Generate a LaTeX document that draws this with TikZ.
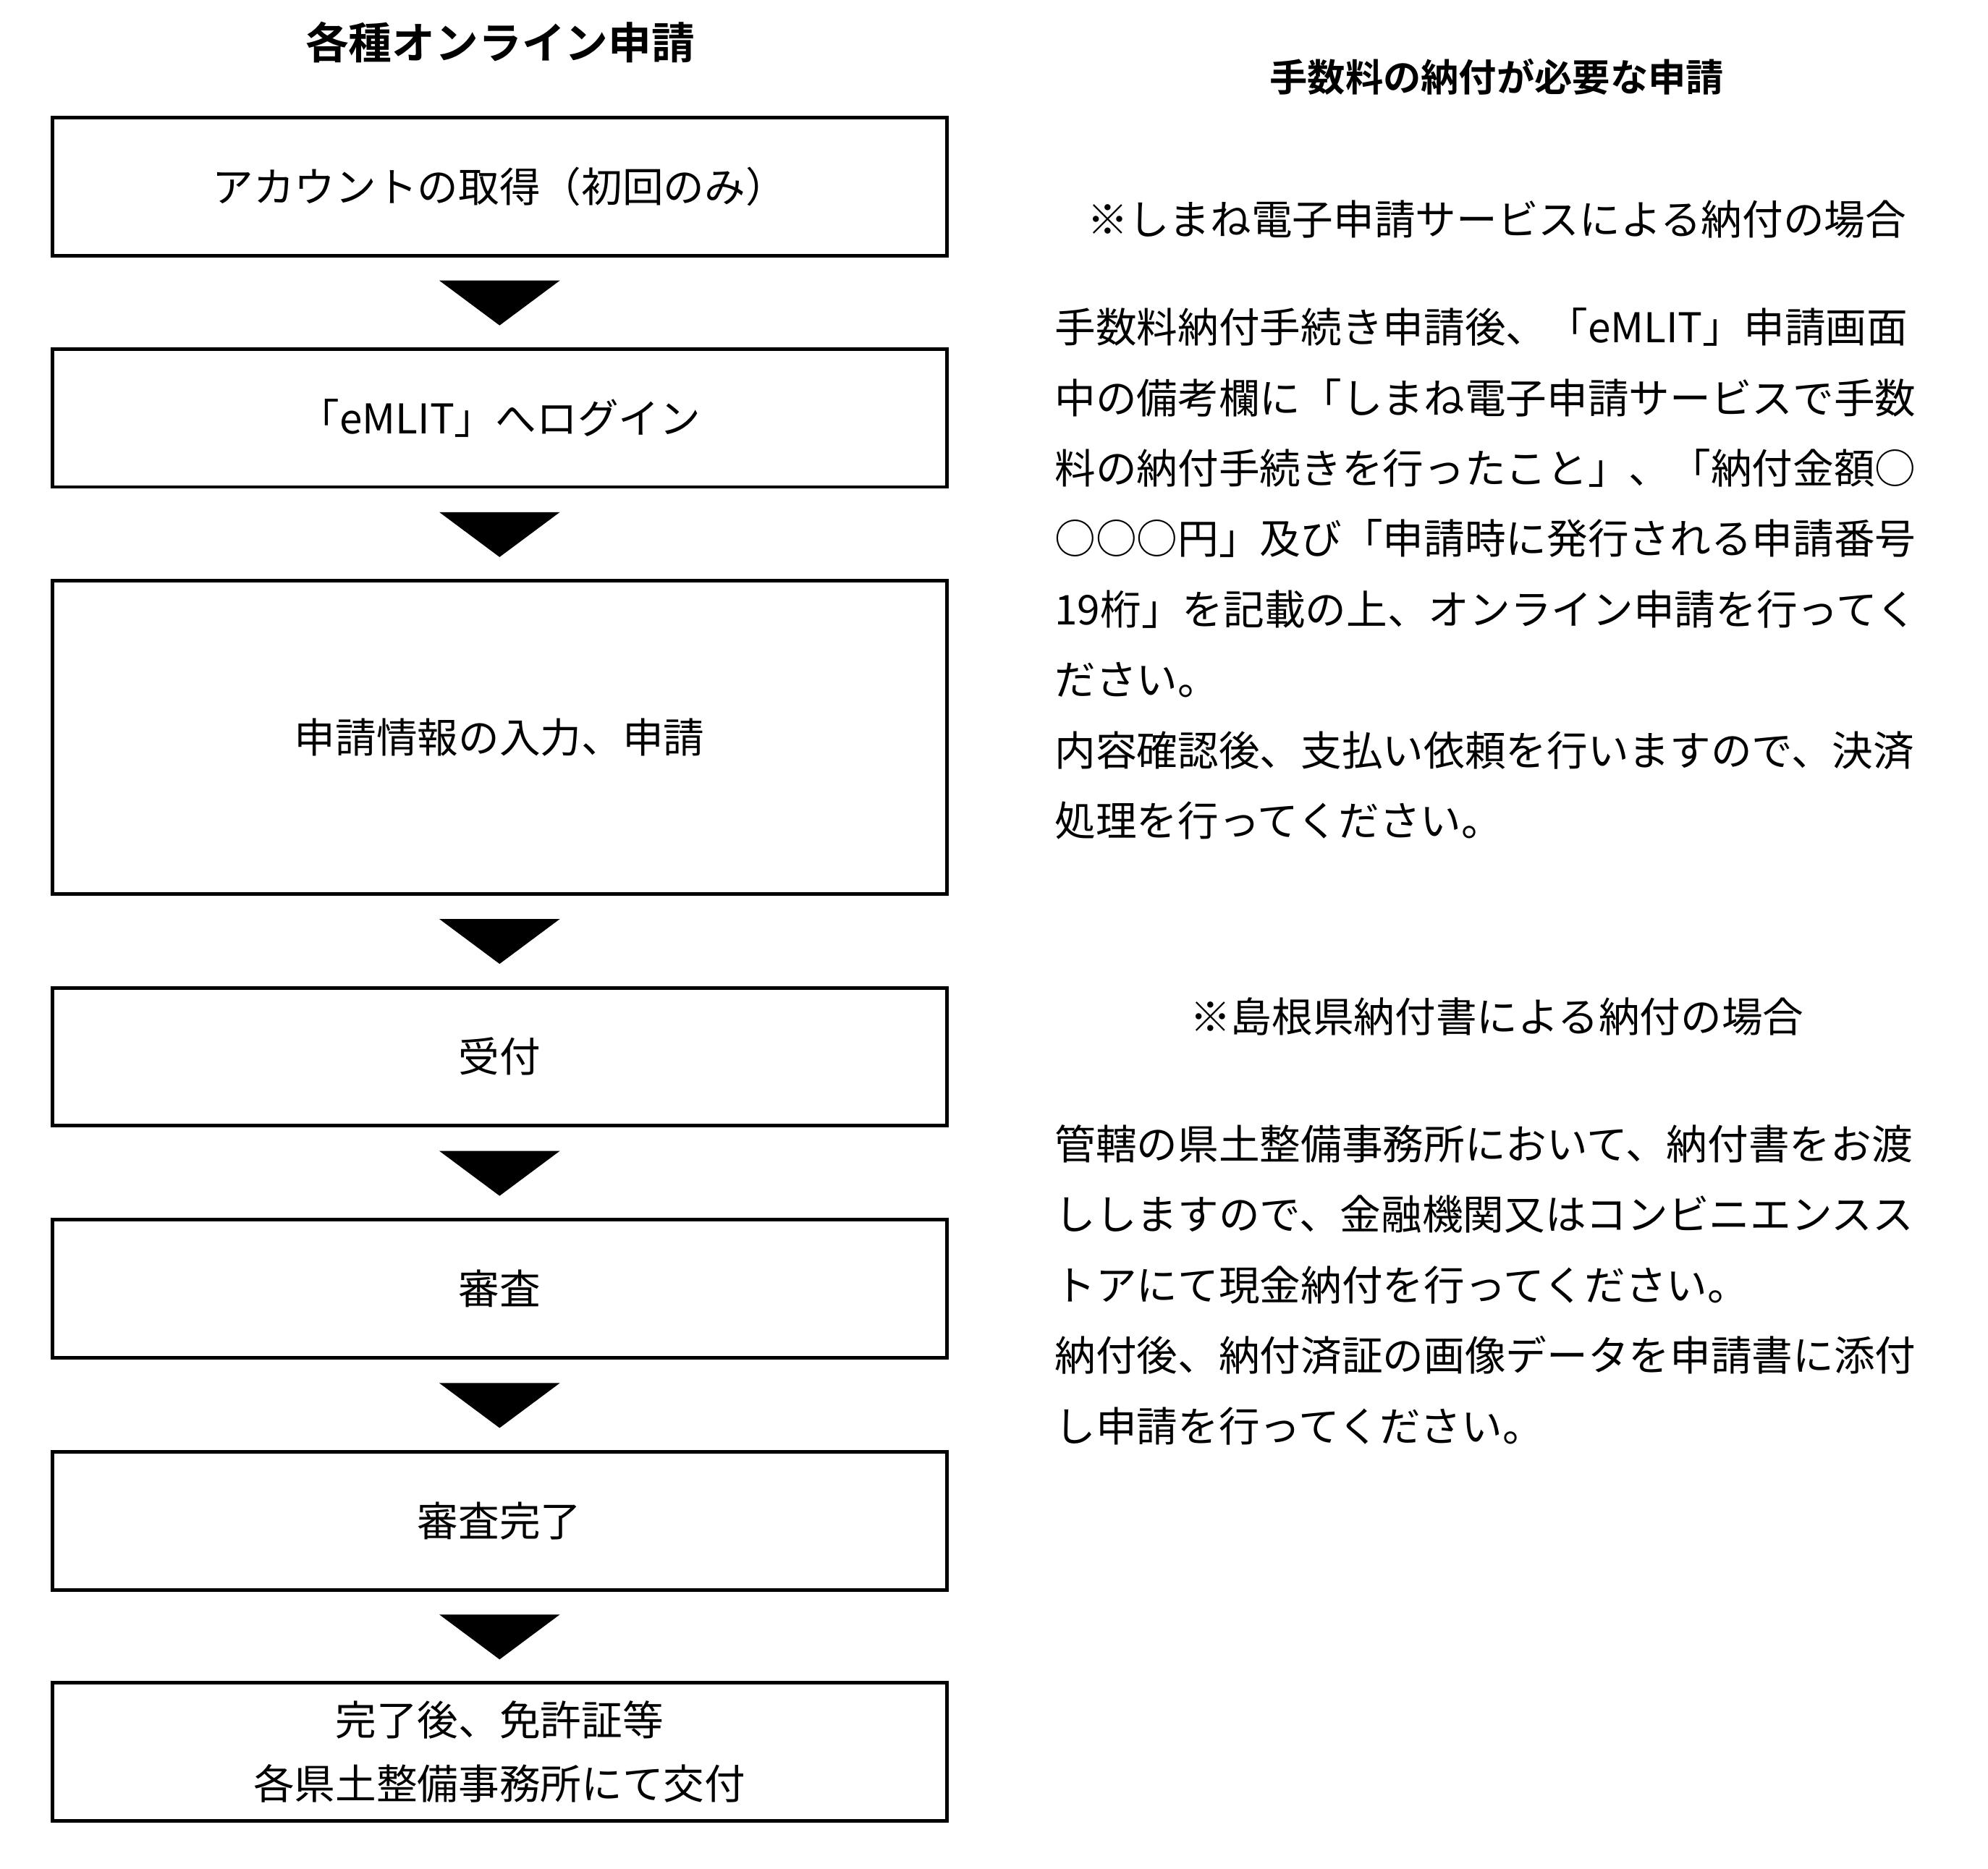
\documentclass[tikz,border=0pt]{standalone}
\usepackage{fontspec}
\setmainfont{Noto Sans CJK JP}
\newfontfamily\jpbold{Noto Sans CJK JP Bold}
\usetikzlibrary{positioning,calc}

\tikzset{
  stepbox/.style={draw, line width=1.6pt, minimum width=13.95cm, minimum height=2.15cm, inner sep=0pt, font=\fontsize{18.2}{22}\selectfont, align=center},
  para/.style={anchor=west, inner sep=0pt, font=\fontsize{18.2}{22}\selectfont},
  marker/.style={fill=black}
}
\newcommand{\downmark}[2]{%
  \fill[marker] ($(#1.south)!0.5!(#2.north)+(-47,-17)$) -- ++(94,0) -- ($(#1.south)!0.5!(#2.north)+(0,18)$) -- cycle;}

\begin{document}
\begin{tikzpicture}[x=0.02cm, y=-0.02cm]
	\useasboundingbox (0,0) rectangle (1550,1457);

	% left column: flow
	\node[font=\jpbold\fontsize{19.2}{22}\selectfont] (ltitle) at (390,33) {各種オンライン申請};

	\node[stepbox] (account) at (389.5,145.5) {アカウントの取得（初回のみ）};
	\node[stepbox] (login) at (389.5,326) {「eMLIT」へログイン};
	\node[stepbox, minimum height=4.88cm] (apply) at (389.5,575) {申請情報の入力、申請};
	\node[stepbox] (accept) at (389.5,824) {受付};
	\node[stepbox] (review) at (389.5,1005) {審査};
	\node[stepbox] (done) at (389.5,1186) {審査完了};
	\node[stepbox, font=\fontsize{18.2}{28.5}\selectfont] (issue) at (389.5,1366) {完了後、免許証等\\各県土整備事務所にて交付};

	\downmark{account}{login}
	\downmark{login}{apply}
	\downmark{apply}{accept}
	\downmark{accept}{review}
	\downmark{review}{done}
	\downmark{done}{issue}

	% right column: notes
	\node[font=\jpbold\fontsize{16.8}{20}\selectfont] (rtitle) at (1167,60) {手数料の納付が必要な申請};
	\node[font=\fontsize{18.2}{22}\selectfont] (case1) at (1167,171) {※しまね電子申請サービスによる納付の場合};

	\node[para] (p1) at (822,255) {手数料納付手続き申請後、「eMLIT」申請画面};
	\node[para] (p2) at (822,310) {中の備考欄に「しまね電子申請サービスで手数};
	\node[para] (p3) at (822,365) {料の納付手続きを行ったこと」、「納付金額○};
	\node[para] (p4) at (822,420) {○○○円」及び「申請時に発行される申請番号};
	\node[para] (p5) at (822,475) {19桁」を記載の上、オンライン申請を行ってく};
	\node[para] (p6) at (822,530) {ださい。};
	\node[para] (p7) at (822,585) {内容確認後、支払い依頼を行いますので、決済};
	\node[para] (p8) at (822,640) {処理を行ってください。};

	\node[font=\fontsize{18.2}{22}\selectfont] (case2) at (1167,793) {※島根県納付書による納付の場合};

	\node[para] (q1) at (822,892) {管轄の県土整備事務所において、納付書をお渡};
	\node[para] (q2) at (822,947) {ししますので、金融機関又はコンビニエンスス};
	\node[para] (q3) at (822,1002) {トアにて現金納付を行ってください。};
	\node[para] (q4) at (822,1057) {納付後、納付済証の画像データを申請書に添付};
	\node[para] (q5) at (822,1112) {し申請を行ってください。};
\end{tikzpicture}
\end{document}
